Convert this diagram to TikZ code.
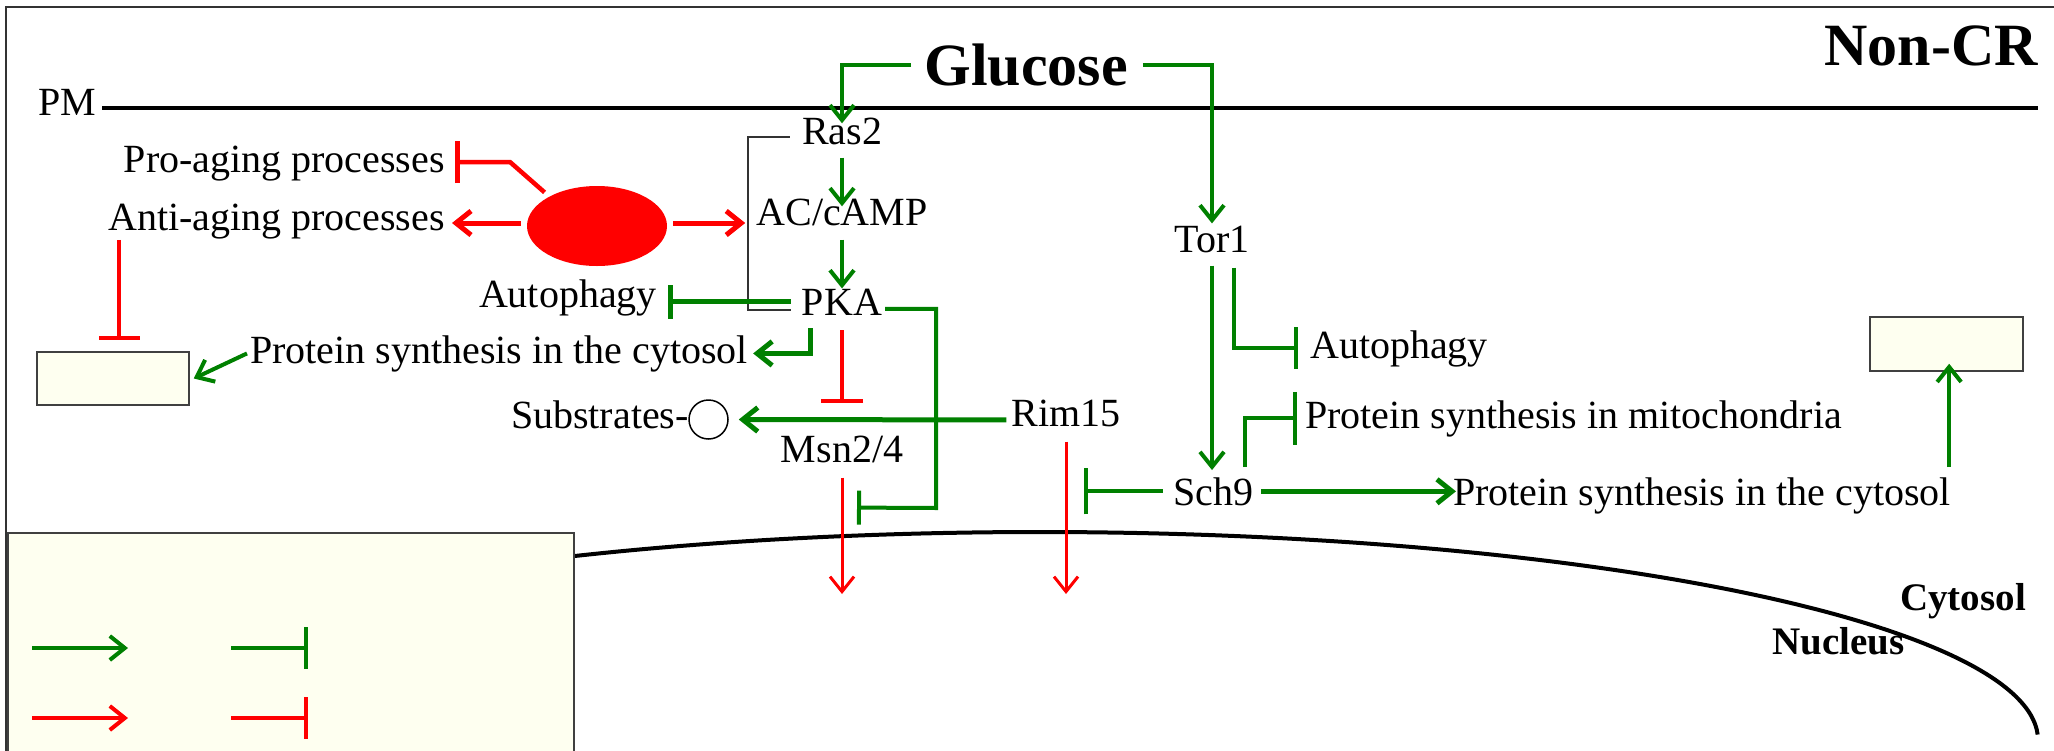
\documentclass[tikz,border=0pt]{standalone}
\usepackage{fontspec}
\setmainfont{Liberation Serif}
\usetikzlibrary{arrows.meta,shapes.geometric}
\definecolor{gr}{HTML}{008000}
\definecolor{rd}{HTML}{FF0000}
\definecolor{boxfill}{HTML}{FEFFF0}
\begin{document}
\begin{tikzpicture}[x=1pt,y=-1pt,
  txt/.style={font=\fontsize{40}{48}\selectfont, inner sep=0pt},
  btxt/.style={font=\bfseries\fontsize{60}{72}\selectfont, inner sep=0pt},
  stxt/.style={font=\bfseries\fontsize{39}{46}\selectfont, inner sep=0pt},
  gact/.style={draw=gr, line width=4pt, -{Straight Barb[length=15pt,width=24pt]}},
  ginh/.style={draw=gr, line width=4pt, -{Bar[width=40pt]}},
  ract/.style={draw=rd, line width=4.5pt, -{Straight Barb[length=15pt,width=24pt]}},
  rinh/.style={draw=rd, line width=4.5pt, -{Bar[width=42pt]}},
  panel/.style={draw=black!75, line width=1.5pt, fill=boxfill},
]
\useasboundingbox (0,0) rectangle (2054,750);
% frame
\draw[black!80, line width=1.5pt] (6,755) -- (6,7) -- (2060,7);

% nucleus envelope
\draw[line width=4pt] plot[domain=242.2:358.5, samples=90, smooth] ({1040+998*cos(\x)}, {740+208*sin(\x)});
% legend panel
\draw[panel] (8,533) rectangle (574,760);

% plasma membrane
\node[txt, anchor=base west] (pm) at (38,115) {PM};
\coordinate (pmA) at (102,108);
\coordinate (pmB) at (2038,108);
\draw[line width=4pt] (pmA) -- (pmB);

% texts
\node[btxt, anchor=base] (glucose) at (1026,85) {Glucose};
\node[btxt, anchor=base east] (noncr) at (2038,65) {Non-CR};
\node[txt, anchor=base] (ras2) at (842,144) {Ras2};
\node[txt, anchor=base] (ac) at (842,225) {AC/cAMP};
\node[txt, anchor=base] (pka) at (842,315) {PKA};
\node[txt, anchor=base] (tor1) at (1212,252) {Tor1};
\node[txt, anchor=base] (sch9) at (1213,505) {Sch9};
\node[txt, anchor=base] (rim15) at (1066,426) {Rim15};
\node[txt, anchor=base] (msn) at (842,462) {Msn2/4};
\node[txt, anchor=base east] (proaging) at (445,172) {Pro-aging processes};
\node[txt, anchor=base east] (antiaging) at (445,230) {Anti-aging processes};
\node[txt, anchor=base east] (autoL) at (657,307) {Autophagy};
\node[txt, anchor=base west] (psL) at (250,363) {Protein synthesis in the cytosol};
\node[txt, anchor=base east] (subs) at (689,428) {Substrates-};
\node[txt, anchor=base west] (autoR) at (1310,358) {Autophagy};
\node[txt, anchor=base west] (psM) at (1305,428) {Protein synthesis in mitochondria};
\node[txt, anchor=base west] (psR) at (1453,505) {Protein synthesis in the cytosol};
\node[stxt, anchor=base west] (cyto) at (1900,610) {Cytosol};
\node[stxt, anchor=base west] (nucl) at (1772,654) {Nucleus};

% shapes
\node[ellipse, fill=rd, minimum width=140pt, minimum height=80pt, inner sep=0pt] (ell) at (597,226) {};
\node[circle, draw, line width=1.5pt, minimum size=39pt, inner sep=0pt] (circ) at (708.5,419.5) {};
\node[panel, minimum width=152pt, minimum height=53pt] (boxL) at (113,378.5) {};
\node[panel, minimum width=153pt, minimum height=54pt] (boxR) at (1946.5,344) {};

% Glucose connectors
\draw[gact] ([xshift=-13pt]glucose.west) -| ([yshift=-6pt]ras2.north);
\draw[gact] ([xshift=15pt]glucose.east) -| ([yshift=2pt]tor1.north);

% Ras/PKA cascade
\draw[gact] ([yshift=-13pt]ras2.south) -- ([yshift=-8pt]ac.north);
\draw[gact] ([yshift=-14pt]ac.south) -- (pka.north);
\draw[line width=1.5pt, black!80] ([shift={(-12,6)}]ras2.west) -- ++(-42,0) |- ([shift={(-11,8)}]pka.west);
\draw[ginh, line width=5pt, -{Bar[width=34pt]}] ([xshift=-11pt]pka.west) -- ([xshift=11pt]pka.west -| autoL.east);
\draw[gact, line width=5pt] ([shift={(-32,13)}]pka.south) |- ([xshift=5pt]psL.east);
\draw[gact] ([xshift=-3pt]psL.west) -- ([xshift=4pt]boxL.east);
\draw[rinh] ([yshift=-15pt]pka.south) -- ([yshift=32pt]msn.north);
\coordinate (kb) at (936,508);
\draw[ginh, -{Bar[width=34pt]}] ([shift={(3,7)}]pka.east) -| (kb) -- ([shift={(15,45)}]msn.south);

% into nucleus
\coordinate (msnN) at (842,594);
\coordinate (rimN) at (1066,594);
\draw[ract, line width=3pt] ([yshift=-15pt]msn.south) -- (msnN);
\draw[ract, line width=3pt] ([yshift=-15pt]rim15.south) -- (rimN);

% Rim15 / Sch9
\draw[gact, line width=5pt] ([shift={(-5,7)}]rim15.west) -- ([xshift=10pt]circ.east);
\draw[ginh, -{Bar[width=46pt]}] ([xshift=-10pt]sch9.west) -- ([xshift=18pt]sch9.west -| rim15.south);

% Tor1 branch
\draw[gact] ([yshift=-13pt]tor1.south) -- ([yshift=7pt]tor1.south |- sch9.north);
\draw[ginh, -{Bar[width=42pt]}] ([shift={(22,15)}]tor1.south) |- ([xshift=-12pt]autoR.west);
\draw[ginh, -{Bar[width=53pt]}] ([shift={(32,-10)}]sch9.north) |- ([xshift=-8pt]psM.west);
\draw[gact, line width=5pt, shorten >=5pt] ([xshift=8pt]sch9.east) -- ([xshift=8pt]sch9.east -| psR.west);
\draw[gact, shorten >=2pt] ([shift={(-2,-10)}]psR.north east) -- ([shift={(-2,-10)}]psR.north east |- boxR.south);

% red ellipse connectors
\draw[ract, line width=5pt] ([shift={(6,-3)}]ell.east) -- ([shift={(-11,-3)}]ell.east -| ac.west);
\draw[ract, line width=5pt] ([shift={(-6,-3)}]ell.west) -- ([shift={(7,-3)}]ell.west -| antiaging.east);
\coordinate (pb) at (510,162);
\draw[rinh] ([shift={(-5,-4)}]ell.148) -- (pb) -- ([xshift=10pt]pb -| proaging.east);
\draw[rinh, -{Bar[width=41pt]}] ([shift={(11,1)}]antiaging.south west) -- ([shift={(11,-11)}]antiaging.south west |- boxL.north);

% legend
\coordinate (lga1) at (32,648); \coordinate (lgb1) at (128,648);
\coordinate (lga2) at (231,648); \coordinate (lgb2) at (308,648);
\coordinate (lga3) at (32,718); \coordinate (lgb3) at (128,718);
\coordinate (lga4) at (231,718); \coordinate (lgb4) at (308,718);
\draw[gact] (lga1) -- (lgb1);
\draw[ginh, -{Bar[width=42pt]}] (lga2) -- (lgb2);
\draw[ract, line width=4pt] (lga3) -- (lgb3);
\draw[rinh, line width=4pt] (lga4) -- (lgb4);
\end{tikzpicture}
\end{document}
